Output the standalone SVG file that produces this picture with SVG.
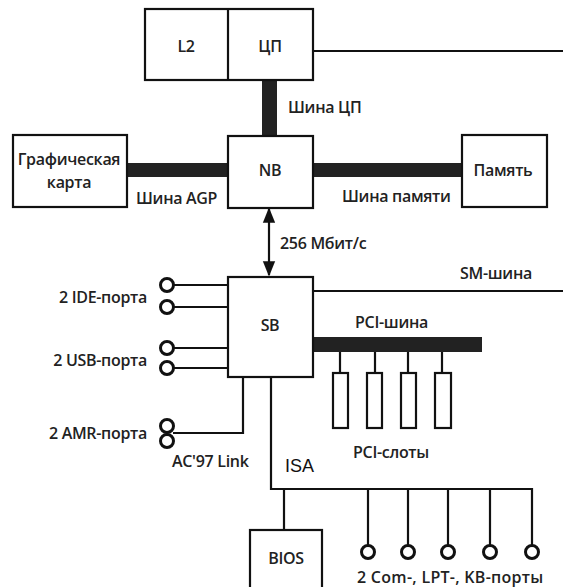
<svg xmlns="http://www.w3.org/2000/svg" width="563" height="587" viewBox="0 0 563 587">
<style>
.box{fill:#fff;stroke:#111;stroke-width:2.2}
.ln{fill:none;stroke:#111;stroke-width:2.2}
.bar{fill:#222}
.port{fill:#fff;stroke:#111;stroke-width:3}
.t{font-family:"Open Sans","Liberation Sans",sans-serif;font-size:16px;font-weight:600;fill:#222;letter-spacing:-0.3px}
.isa{font-family:"Liberation Sans",Arial,sans-serif;font-size:18px;fill:#111}
</style>
<defs>
<marker id="ah" viewBox="0 0 10 10" refX="9" refY="5" markerWidth="7" markerHeight="7" orient="auto-start-reverse">
<path d="M0,1 L10,5 L0,9 z" fill="#111"/>
</marker>
</defs>
<rect width="563" height="587" fill="#fff"/>
<g id="connectors">
<line class="ln" x1="313" y1="51" x2="563" y2="51"/>
<rect class="bar" x="262" y="80" width="15" height="57"/>
<rect class="bar" x="127" y="163" width="101" height="14"/>
<rect class="bar" x="313" y="163" width="149" height="14"/>
<line class="ln" x1="269" y1="209" x2="269" y2="275" marker-start="url(#ah)" marker-end="url(#ah)"/>
<line class="ln" x1="313" y1="291" x2="563" y2="291"/>
<rect class="bar" x="313" y="337" width="169" height="15"/>
<line class="ln" x1="340" y1="352" x2="340" y2="373"/>
<line class="ln" x1="375" y1="352" x2="375" y2="373"/>
<line class="ln" x1="408" y1="352" x2="408" y2="373"/>
<line class="ln" x1="442" y1="352" x2="442" y2="373"/>
<line class="ln" x1="174" y1="285" x2="228" y2="285"/>
<line class="ln" x1="174" y1="307" x2="228" y2="307"/>
<line class="ln" x1="174" y1="348" x2="228" y2="348"/>
<line class="ln" x1="174" y1="368" x2="228" y2="368"/>
<polyline class="ln" points="173,433 243,433 243,377"/>
<polyline class="ln" points="271,377 271,489 532,489 532,545"/>
<line class="ln" x1="284" y1="489" x2="284" y2="530"/>
<line class="ln" x1="368" y1="489" x2="368" y2="545"/>
<line class="ln" x1="408" y1="489" x2="408" y2="545"/>
<line class="ln" x1="448" y1="489" x2="448" y2="545"/>
<line class="ln" x1="490" y1="489" x2="490" y2="545"/>
</g>
<g id="cpu">
<rect class="box" x="145" y="9" width="168" height="71"/>
<line class="ln" x1="228" y1="9" x2="228" y2="80"/>
<text class="t" x="186" y="52" text-anchor="middle">L2</text>
<text class="t" x="270" y="52" text-anchor="middle">ЦП</text>
</g>
<g id="graphics">
<rect class="box" x="13" y="135" width="114" height="72"/>
<text class="t" x="69" y="165" text-anchor="middle">Графическая</text>
<text class="t" x="69" y="188" text-anchor="middle">карта</text>
</g>
<g id="nb">
<rect class="box" x="228" y="136" width="85" height="72"/>
<text class="t" x="270" y="176" text-anchor="middle">NB</text>
</g>
<g id="memory">
<rect class="box" x="462" y="135" width="85" height="72"/>
<text class="t" x="503" y="176" text-anchor="middle">Память</text>
</g>
<g id="sb">
<rect class="box" x="228" y="277" width="85" height="100"/>
<text class="t" x="270" y="331" text-anchor="middle">SB</text>
</g>
<g id="pci-slots">
<rect class="box" x="333" y="373" width="15" height="55"/>
<rect class="box" x="367" y="373" width="15" height="55"/>
<rect class="box" x="401" y="373" width="15" height="55"/>
<rect class="box" x="435" y="373" width="16" height="55"/>
</g>
<g id="bios">
<rect class="box" x="250" y="530" width="72" height="62"/>
<text class="t" x="286" y="564" text-anchor="middle">BIOS</text>
</g>
<g id="ports">
<circle class="port" cx="167" cy="285" r="6.5"/>
<circle class="port" cx="167" cy="307" r="6.5"/>
<circle class="port" cx="167" cy="348" r="6.5"/>
<circle class="port" cx="167" cy="368" r="6.5"/>
<circle class="port" cx="167" cy="426" r="6.5"/>
<circle class="port" cx="167" cy="441" r="6.5"/>
<circle class="port" cx="368" cy="552" r="6.5"/>
<circle class="port" cx="408" cy="552" r="6.5"/>
<circle class="port" cx="448" cy="552" r="6.5"/>
<circle class="port" cx="490" cy="552" r="6.5"/>
<circle class="port" cx="532" cy="552" r="6.5"/>
</g>
<g id="labels">
<text class="t" x="288" y="113">Шина ЦП</text>
<text class="t" x="136" y="204">Шина AGP</text>
<text class="t" x="342" y="202">Шина памяти</text>
<text class="t" x="280" y="249">256 Мбит/с</text>
<text class="t" x="460" y="279">SM-шина</text>
<text class="t" x="355" y="328">PCI-шина</text>
<text class="t" x="353" y="458">PCI-слоты</text>
<text class="t" x="147" y="303" text-anchor="end">2 IDE-порта</text>
<text class="t" x="147" y="366" text-anchor="end">2 USB-порта</text>
<text class="t" x="147" y="439" text-anchor="end">2 AMR-порта</text>
<text class="t" x="172" y="467">AC'97 Link</text>
<text class="isa" x="285" y="472">ISA</text>
<text class="t" x="357" y="583" font-size="17" textLength="186" lengthAdjust="spacing">2 Com-, LPT-, KB-порты</text>
</g>
</svg>
